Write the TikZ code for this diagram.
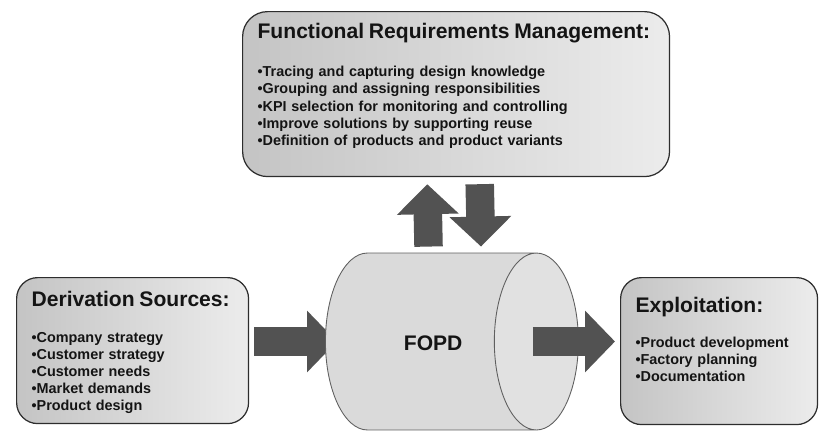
\documentclass[tikz,border=0pt]{standalone}
\usepackage{fontspec}
\setmainfont{Liberation Sans}
\usetikzlibrary{positioning,arrows.meta,shapes.geometric}
\definecolor{ink}{RGB}{20,20,20}
\definecolor{rim}{RGB}{45,45,45}
\definecolor{shadedark}{RGB}{196,196,196}
\definecolor{shadelight}{RGB}{236,236,236}
\definecolor{drum}{RGB}{218,218,218}
\definecolor{drumend}{RGB}{225,225,225}
\definecolor{drumrim}{RGB}{95,95,95}
\definecolor{flow}{RGB}{82,82,82}
\pgfdeclarelayer{back}
\pgfsetlayers{back,main}
\tikzset{
  panel/.style={draw=rim, line width=0.7pt, rounded corners=0.42cm, left color=shadedark,
                right color=shadelight, align=left, anchor=north west, inner xsep=0.3cm,
                inner ysep=0pt, text=ink, font=\fontsize{8.2}{9.75}\selectfont\bfseries},
  drumnode/.style={cylinder, shape aspect=0.475, draw=drumrim, line width=0.5pt,
                cylinder uses custom fill, cylinder body fill=drum, cylinder end fill=drumend,
                minimum height=5.06cm, inner xsep=0pt, inner ysep=1.77cm},
  drumlbl/.style={font=\fontsize{12}{14}\selectfont\bfseries, text=ink},
  bigarr/.style={line width=0.57cm, draw=flow, -{Triangle[length=0.6cm, width=1.2cm]}},
}

\begin{document}
\begin{tikzpicture}[x=0.02cm, y=-0.02cm]
  \useasboundingbox (0,0) rectangle (823,440);

  % the three panels
  \node[panel, rounded corners=0.5cm, text width=7.94cm, text height=0.54cm, text depth=2.76cm]
    (frm) at (242,11)
    {{\fontsize{12}{14}\selectfont Functional Requirements Management:}\\[12pt]
     •Tracing and capturing design knowledge\\
     •Grouping and assigning responsibilities\\
     •KPI selection for monitoring and controlling\\
     •Improve solutions by supporting reuse\\
     •Definition of products and product variants};

  \node[panel, text width=4.04cm, text height=0.58cm, text depth=2.34cm]
    (deriv) at (16,277)
    {{\fontsize{12}{14}\selectfont Derivation Sources:}\\[10.5pt]
     •Company strategy\\
     •Customer strategy\\
     •Customer needs\\
     •Market demands\\
     •Product design};

  \node[panel, text width=3.34cm, text height=0.7cm, text depth=2.24cm]
    (exploit) at (620,277)
    {{\fontsize{12}{14}\selectfont Exploitation:}\\[10pt]
     •Product development\\
     •Factory planning\\
     •Documentation};

  % the drum in the middle
  \node[drumnode, anchor=west, label={[drumlbl, xshift=0.47cm, yshift=-0.04cm]center:FOPD}]
    (fopd) at (325,341.5) {};

  % block arrows
  \begin{pgfonlayer}{back}
    \draw[bigarr, shorten <=0.1cm, shorten >=-0.24cm] (deriv.east |- fopd.west) -- (fopd.west);
  \end{pgfonlayer}
  \draw[bigarr, shorten >=0.1cm] ([xshift=-0.92cm]fopd.east) -- (exploit.west |- fopd.east);
  \draw[bigarr, shorten <=0.12cm, shorten >=0.14cm] ([xshift=0.38cm]fopd.north) -- ([xshift=-0.58cm]frm.south);
  \draw[bigarr, shorten <=0.14cm, shorten >=0.12cm] ([xshift=0.47cm]frm.south) -- ([xshift=1.43cm]fopd.north);
\end{tikzpicture}
\end{document}
